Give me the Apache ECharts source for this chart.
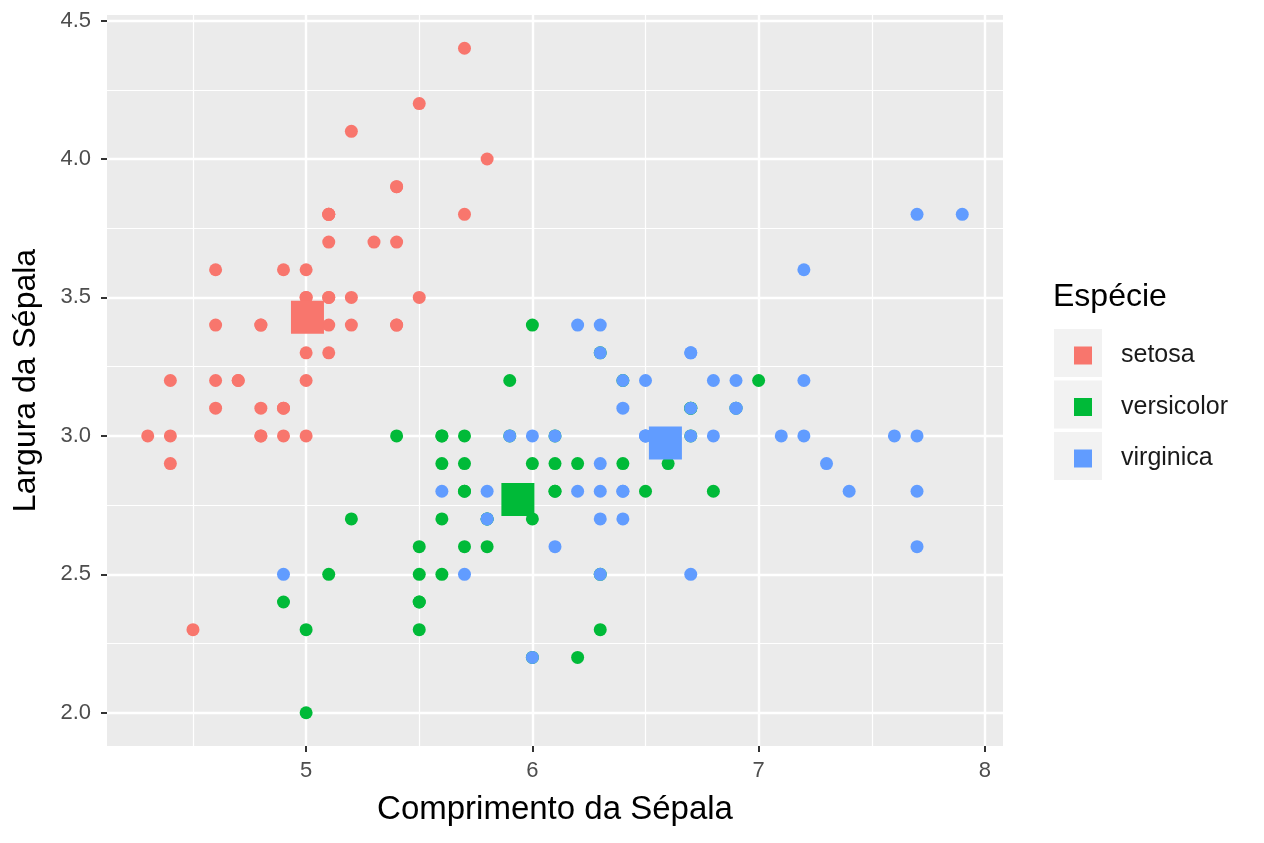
<!DOCTYPE html>
<html>
<head>
<meta charset="utf-8">
<script src="https://cdn.jsdelivr.net/npm/echarts@6/dist/echarts.min.js"></script>
<style>
  html, body { margin: 0; padding: 0; background: #fff; }
  #chart { width: 1264px; height: 843px; }
</style>
</head>
<body>
<div id="chart"></div>
<script>
// especies e cores
var species = ['setosa', 'versicolor', 'virginica'];
var colors = ['#F8766D', '#00BA38', '#619CFF'];

// comprimento / largura da sépala por espécie
var setosaX = [5.1, 4.9, 4.7, 4.6, 5.0, 5.4, 4.6, 5.0, 4.4, 4.9, 5.4, 4.8, 4.8, 4.3, 5.8, 5.7, 5.4, 5.1, 5.7, 5.1, 5.4, 5.1, 4.6, 5.1, 4.8, 5.0, 5.0, 5.2, 5.2, 4.7, 4.8, 5.4, 5.2, 5.5, 4.9, 5.0, 5.5, 4.9, 4.4, 5.1, 5.0, 4.5, 4.4, 5.0, 5.1, 4.8, 5.1, 4.6, 5.3, 5.0];
var setosaY = [3.5, 3.0, 3.2, 3.1, 3.6, 3.9, 3.4, 3.4, 2.9, 3.1, 3.7, 3.4, 3.0, 3.0, 4.0, 4.4, 3.9, 3.5, 3.8, 3.8, 3.4, 3.7, 3.6, 3.3, 3.4, 3.0, 3.4, 3.5, 3.4, 3.2, 3.1, 3.4, 4.1, 4.2, 3.1, 3.2, 3.5, 3.6, 3.0, 3.4, 3.5, 2.3, 3.2, 3.5, 3.8, 3.0, 3.8, 3.2, 3.7, 3.3];
var versicolorX = [7.0, 6.4, 6.9, 5.5, 6.5, 5.7, 6.3, 4.9, 6.6, 5.2, 5.0, 5.9, 6.0, 6.1, 5.6, 6.7, 5.6, 5.8, 6.2, 5.6, 5.9, 6.1, 6.3, 6.1, 6.4, 6.6, 6.8, 6.7, 6.0, 5.7, 5.5, 5.5, 5.8, 6.0, 5.4, 6.0, 6.7, 6.3, 5.6, 5.5, 5.5, 6.1, 5.8, 5.0, 5.6, 5.7, 5.7, 6.2, 5.1, 5.7];
var versicolorY = [3.2, 3.2, 3.1, 2.3, 2.8, 2.8, 3.3, 2.4, 2.9, 2.7, 2.0, 3.0, 2.2, 2.9, 2.9, 3.1, 3.0, 2.7, 2.2, 2.5, 3.2, 2.8, 2.5, 2.8, 2.9, 3.0, 2.8, 3.0, 2.9, 2.6, 2.4, 2.4, 2.7, 2.7, 3.0, 3.4, 3.1, 2.3, 3.0, 2.5, 2.6, 3.0, 2.6, 2.3, 2.7, 3.0, 2.9, 2.9, 2.5, 2.8];
var virginicaX = [6.3, 5.8, 7.1, 6.3, 6.5, 7.6, 4.9, 7.3, 6.7, 7.2, 6.5, 6.4, 6.8, 5.7, 5.8, 6.4, 6.5, 7.7, 7.7, 6.0, 6.9, 5.6, 7.7, 6.3, 6.7, 7.2, 6.2, 6.1, 6.4, 7.2, 7.4, 7.9, 6.4, 6.3, 6.1, 7.7, 6.3, 6.4, 6.0, 6.9, 6.7, 6.9, 5.8, 6.8, 6.7, 6.7, 6.3, 6.5, 6.2, 5.9];
var virginicaY = [3.3, 2.7, 3.0, 2.9, 3.0, 3.0, 2.5, 2.9, 2.5, 3.6, 3.2, 2.7, 3.0, 2.5, 2.8, 3.2, 3.0, 3.8, 2.6, 2.2, 3.2, 2.8, 2.8, 2.7, 3.3, 3.2, 2.8, 3.0, 2.8, 3.0, 2.8, 3.8, 2.8, 2.8, 2.6, 3.0, 3.4, 3.1, 3.0, 3.1, 3.1, 3.1, 2.7, 3.2, 3.3, 3.0, 2.5, 3.0, 3.4, 3.0];

// ticks dos eixos
var xTicks = [5, 6, 7, 8];
var xMinorTicks = [4.5, 5.5, 6.5, 7.5];
var yTicks = [2.0, 2.5, 3.0, 3.5, 4.0, 4.5];
var yMinorTicks = [2.25, 2.75, 3.25, 3.75, 4.25];

var xs = [setosaX, versicolorX, virginicaX];
var ys = [setosaY, versicolorY, virginicaY];

function mean(arr) {
    var s = 0;
    for (var i = 0; i < arr.length; i++) s += arr[i];
    return s / arr.length;
}

function pairs(a, b) {
    return a.map(function (v, i) { return [v, b[i]]; });
}

var font = 'Liberation Sans, Arial, sans-serif';
var chart = echarts.init(document.getElementById('chart'), null, { renderer: 'canvas' });

var series = [];
// pontos
species.forEach(function (sp, i) {
    series.push({
        name: sp,
        type: 'scatter',
        symbol: 'circle',
        symbolSize: 13,
        itemStyle: { color: colors[i], opacity: 1 },
        emphasis: { disabled: true },
        data: pairs(xs[i], ys[i]),
        z: 3
    });
});
// centroides
species.forEach(function (sp, i) {
    series.push({
        name: sp,
        type: 'scatter',
        symbol: 'rect',
        symbolSize: 33,
        itemStyle: { color: colors[i], opacity: 1 },
        emphasis: { disabled: true },
        data: [[mean(xs[i]), mean(ys[i])]],
        z: 4
    });
});

var xMin = 4.12, xMax = 8.08, yMin = 1.88, yMax = 4.52;

// legenda: uma por espécie para controlar o espaçamento
var keyTops = [329, 380.5, 432];
var legends = species.map(function (sp, i) {
    return {
        orient: 'vertical',
        left: 1069, top: keyTops[i] + 9,
        itemWidth: 18, itemHeight: 18,
        selectedMode: false,
        data: [{ name: sp, icon: 'rect' }],
        textStyle: { fontSize: 25, color: '#1a1a1a', fontFamily: font, padding: [0, 0, 0, 24] }
    };
});
var keyBoxes = keyTops.map(function (t) {
    return { type: 'rect', left: 1054, top: t, shape: { width: 48, height: 48 }, style: { fill: '#F2F2F2' }, z: -1 };
});

var option = {
    backgroundColor: '#ffffff',
    animation: false,
    textStyle: { fontFamily: font },
    grid: {
        left: 107, top: 15, right: 261, bottom: 97,
        show: true, backgroundColor: '#EBEBEB', borderWidth: 0
    },
    xAxis: [{
        type: 'value', min: xMin, max: xMax,
        name: 'Comprimento da Sépala', nameLocation: 'middle', nameGap: 47,
        nameTextStyle: { fontSize: 33, color: '#000', fontFamily: font },
        axisLine: { show: false },
        axisTick: { show: true, length: 6, customValues: xTicks, lineStyle: { color: '#333', width: 2 } },
        axisLabel: { customValues: xTicks, fontSize: 22, color: '#4D4D4D', margin: 14, fontFamily: font },
        splitLine: { show: true, lineStyle: { color: '#fff', width: 2.4 } }
    }, {
        type: 'value', min: xMin, max: xMax, position: 'bottom',
        axisLine: { show: false },
        axisTick: { show: false, customValues: xMinorTicks },
        axisLabel: { show: false, customValues: xMinorTicks },
        splitLine: { show: true, lineStyle: { color: '#fff', width: 1.2 } }
    }],
    yAxis: [{
        type: 'value', min: yMin, max: yMax,
        name: 'Largura da Sépala', nameLocation: 'middle', nameGap: 65, nameRotate: 90,
        nameTextStyle: { fontSize: 32, color: '#000', fontFamily: font },
        axisLine: { show: false },
        axisTick: { show: true, length: 6, customValues: yTicks, lineStyle: { color: '#333', width: 2 } },
        axisLabel: {
            customValues: yTicks, fontSize: 22, color: '#4D4D4D', margin: 16, fontFamily: font,
            formatter: function (v) { return Number(v).toFixed(1); }
        },
        splitLine: { show: true, lineStyle: { color: '#fff', width: 2.4 } }
    }, {
        type: 'value', min: yMin, max: yMax, position: 'left',
        axisLine: { show: false },
        axisTick: { show: false, customValues: yMinorTicks },
        axisLabel: { show: false, customValues: yMinorTicks },
        splitLine: { show: true, lineStyle: { color: '#fff', width: 1.2 } }
    }],
    legend: legends,
    graphic: [
        { type: 'text', left: 1053, top: 281, style: { text: 'Espécie', fontSize: 32, fill: '#000', fontFamily: font } }
    ].concat(keyBoxes),
    series: series
};

chart.setOption(option);
</script>
</body>
</html>
